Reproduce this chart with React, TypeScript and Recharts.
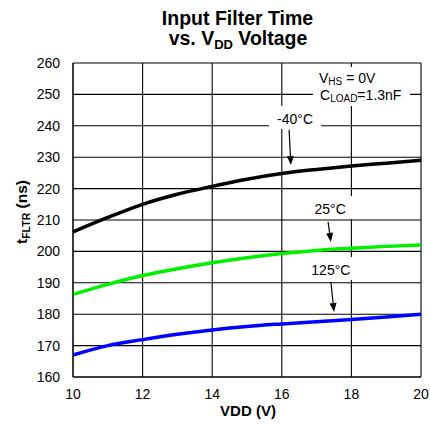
import React from 'react';
import { LineChart, Line, XAxis, YAxis, CartesianGrid, ReferenceLine, ReferenceDot } from 'recharts';

// VDD supply voltage (V)
const vdd = [10, 11, 12, 13, 14, 15, 16, 17, 18, 19, 20];
// input filter time (ns) per temperature
const tMinus40 = [206.2, 210.8, 215.0, 218.2, 220.7, 223.0, 224.8, 226.1, 227.2, 228.1, 229.0];
const t25 = [186.3, 189.5, 192.3, 194.5, 196.4, 198.0, 199.3, 200.3, 201.0, 201.6, 202.0];
const t125 = [167.0, 170.0, 171.9, 173.6, 175.0, 176.1, 176.9, 177.6, 178.3, 179.1, 180.0];

const xTicks = [10, 12, 14, 16, 18, 20];
const yTicks = [160, 170, 180, 190, 200, 210, 220, 230, 240, 250, 260];

const tempNames = ['-40°C', '25°C', '125°C'];
// label anchor and arrow, in data units
const labelAt = [[16.38, 242.2], [17.39, 213.5], [17.41, 194.1]];
const arrowFrom = [[16.21, 238.7], [17.33, 209.4], [17.41, 190.3]];
const arrowTo = [[16.26, 227.5], [17.41, 203.0], [17.5, 180.7]];

const data = vdd.map((v, i) => ({ vdd: v, m40: tMinus40[i], t25: t25[i], t125: t125[i] }));

const FONT = '"Liberation Sans", Arial, Helvetica, sans-serif';

const Arrow = (p: any) => {
  const { x1, y1, x2, y2 } = p;
  const ang = Math.atan2(y2 - y1, x2 - x1);
  const L = 9;
  const W = 3.5;
  const bx = x2 - L * Math.cos(ang);
  const by = y2 - L * Math.sin(ang);
  const px = -Math.sin(ang) * W;
  const py = Math.cos(ang) * W;
  return (
    <g>
      <line x1={x1} y1={y1} x2={bx} y2={by} stroke="#000" strokeWidth={1.2} />
      <polygon points={`${x2},${y2} ${bx + px},${by + py} ${bx - px},${by - py}`} fill="#000" />
    </g>
  );
};

const tempLabel = (text: string) => (p: any) => {
  const w = text.length * 8 + 12;
  return (
    <g>
      <rect x={p.cx - w / 2} y={p.cy - 13} width={w} height={23} fill="#fff" />
      <text x={p.cx} y={p.cy + 5} textAnchor="middle" fontSize={14} fontFamily={FONT} fill="#000">
        {text}
      </text>
    </g>
  );
};

// x tick at its true coordinate (recharts nudges the last one inward otherwise)
const XTick = (p: any) => {
  const cx = p.payload && p.payload.coordinate != null ? p.payload.coordinate : p.x;
  return (
    <text x={cx} y={p.y} dy="0.71em" textAnchor="middle" fontSize={14} fontFamily={FONT} fill="#000">
      {p.payload.value}
    </text>
  );
};

export default function App() {
  return (
    <div style={{ position: 'absolute', left: 0, top: 0, width: 430, height: 430, background: '#fff' }}>
      <LineChart width={430} height={430} data={data} margin={{ top: 63, right: 9, bottom: 23, left: 28 }}>
        <CartesianGrid stroke="#000" strokeWidth={1.1} />
        <XAxis
          dataKey="vdd"
          type="number"
          domain={[10, 20]}
          ticks={xTicks}
          interval={0}
          height={30}
          tickLine={false}
          tickSize={0}
          tickMargin={12}
          axisLine={{ stroke: '#000' }}
          tick={XTick}
        />
        <YAxis
          type="number"
          domain={[160, 260]}
          ticks={yTicks}
          interval={0}
          width={45}
          tickLine={false}
          tickSize={0}
          tickMargin={13}
          axisLine={{ stroke: '#000' }}
          tick={{ fill: '#000', fontSize: 14, fontFamily: FONT }}
        />
        <Line type="monotone" dataKey="m40" stroke="#000" strokeWidth={3.5} dot={false} isAnimationActive={false} />
        <Line type="monotone" dataKey="t25" stroke="#00f000" strokeWidth={3.5} dot={false} isAnimationActive={false} />
        <Line type="monotone" dataKey="t125" stroke="#0000ff" strokeWidth={3.5} dot={false} isAnimationActive={false} />
        {tempNames.map((name, i) => (
          <ReferenceDot key={'l' + i} x={labelAt[i][0]} y={labelAt[i][1]} shape={tempLabel(name)} />
        ))}
        {tempNames.map((name, i) => (
          <ReferenceLine
            key={'a' + i}
            segment={[
              { x: arrowFrom[i][0], y: arrowFrom[i][1] },
              { x: arrowTo[i][0], y: arrowTo[i][1] },
            ]}
            shape={Arrow}
          />
        ))}
      </LineChart>
      <svg
        width={430}
        height={430}
        style={{ position: 'absolute', left: 0, top: 0, pointerEvents: 'none' }}
        fontFamily={FONT}
      >
        <text x={237.5} y={25} textAnchor="middle" fontSize={19.5} fontWeight="bold">
          Input Filter Time
        </text>
        <text x={238} y={45} textAnchor="middle" fontSize={19.5} fontWeight="bold">
          vs. V<tspan fontSize={13} dy={4}>DD</tspan>
          <tspan dy={-4}> Voltage</tspan>
        </text>
        <text x={248} y={416} textAnchor="middle" fontSize={15} fontWeight="bold">
          VDD (V)
        </text>
        <text transform="translate(27,212) rotate(-90)" textAnchor="middle" fontSize={15.5} fontWeight="bold">
          t<tspan fontSize={10.5} dy={3}>FLTR</tspan>
          <tspan dy={-3}> (ns)</tspan>
        </text>
        <rect x={313} y={67} width={97} height={39} fill="#fff" />
        <text x={319} y={83} fontSize={14}>
          V<tspan fontSize={10} dy={2}>HS</tspan>
          <tspan dy={-2}> = 0V</tspan>
        </text>
        <text x={320} y={100} fontSize={14}>
          C<tspan fontSize={10} dy={2}>LOAD</tspan>
          <tspan dy={-2}>=1.3nF</tspan>
        </text>
      </svg>
    </div>
  );
}
